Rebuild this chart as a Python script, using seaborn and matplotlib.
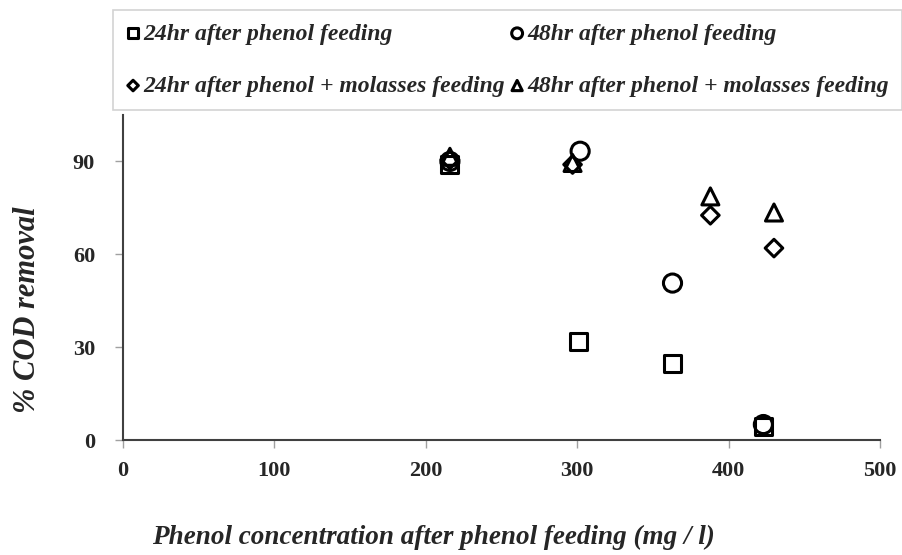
import matplotlib
matplotlib.use("Agg")
import matplotlib.pyplot as plt
import seaborn as sns
import pandas as pd

# Data
phenol_24_x = [216, 301, 363, 423]
phenol_24_y = [89.0, 31.8, 24.8, 4.5]
phenol_48_x = [216, 302, 363, 423]
phenol_48_y = [90.0, 93.3, 50.7, 5.0]
mol_24_x = [216, 297, 388, 430]
mol_24_y = [90.5, 89.0, 72.6, 62.0]
mol_48_x = [216, 297, 388, 430]
mol_48_y = [91.5, 89.5, 78.7, 73.5]

labels = ["24hr after phenol feeding",
          "24hr after phenol + molasses feeding",
          "48hr after phenol feeding",
          "48hr after phenol + molasses feeding"]
xticks = [0, 100, 200, 300, 400, 500]
yticks = [0, 30, 60, 90]

sns.set_theme(style="white")
plt.rcParams["font.family"] = ["Liberation Serif", "DejaVu Serif"]

fig = plt.figure(figsize=(9.03, 5.55), dpi=100)
ax = fig.add_axes([0.136, 0.2072, 0.8385, 0.5856])

series = [
    (phenol_24_x, phenol_24_y, "s", 150, labels[0]),
    (mol_24_x, mol_24_y, "D", 80, labels[1]),
    (phenol_48_x, phenol_48_y, "o", 170, labels[2]),
    (mol_48_x, mol_48_y, "^", 150, labels[3]),
]
for xs, ys, m, s, lab in series:
    df = pd.DataFrame({"x": xs, "y": ys})
    sns.scatterplot(data=df, x="x", y="y", marker=m, s=s, ax=ax, label=lab)

for coll in ax.collections:
    coll.set_facecolor("none")
    coll.set_edgecolor("black")
    coll.set_linewidth(2.2)

ax.set_xlim(0, 500)
ax.set_ylim(0, 105)
ax.set_xticks(xticks)
ax.set_yticks(yticks)
ax.set_xticklabels([str(t) for t in xticks], fontsize=16, fontweight="bold")
ax.set_yticklabels([str(t) for t in yticks], fontsize=16, fontweight="bold")
ax.tick_params(axis="x", direction="out", length=6, width=1, color="#a0a0a0",
               bottom=True, pad=9)
ax.tick_params(axis="y", direction="out", length=6, width=1, color="#a0a0a0",
               left=True, pad=14)
for side in ["top", "right"]:
    ax.spines[side].set_visible(False)
for side in ["left", "bottom"]:
    ax.spines[side].set_color("#404040")
    ax.spines[side].set_linewidth(1.5)

ax.set_xlabel("Phenol concentration after phenol feeding (mg / l)", fontsize=19.5,
              fontweight="bold", fontstyle="italic")
ax.xaxis.set_label_coords(0.41, -0.262)
ax.set_ylabel("% COD removal", fontsize=22, fontweight="bold", fontstyle="italic")
ax.yaxis.set_label_coords(-0.107, 0.40)

handles, labs = ax.get_legend_handles_labels()
ax.get_legend().remove()
leg = fig.legend(handles, labs, loc="upper left", bbox_to_anchor=(113 / 903, 1 - 10 / 555),
                 borderaxespad=0, ncol=2, frameon=True, markerscale=0.6,
                 handletextpad=0.15, columnspacing=0.2, labelspacing=1.3,
                 handlelength=0.6, borderpad=0.55, fancybox=False,
                 prop={"size": 17, "weight": "bold", "style": "italic"})
leg.get_frame().set_edgecolor("#c8c8c8")
leg.get_frame().set_linewidth(1.2)

fig.savefig("out.png", dpi=100)
